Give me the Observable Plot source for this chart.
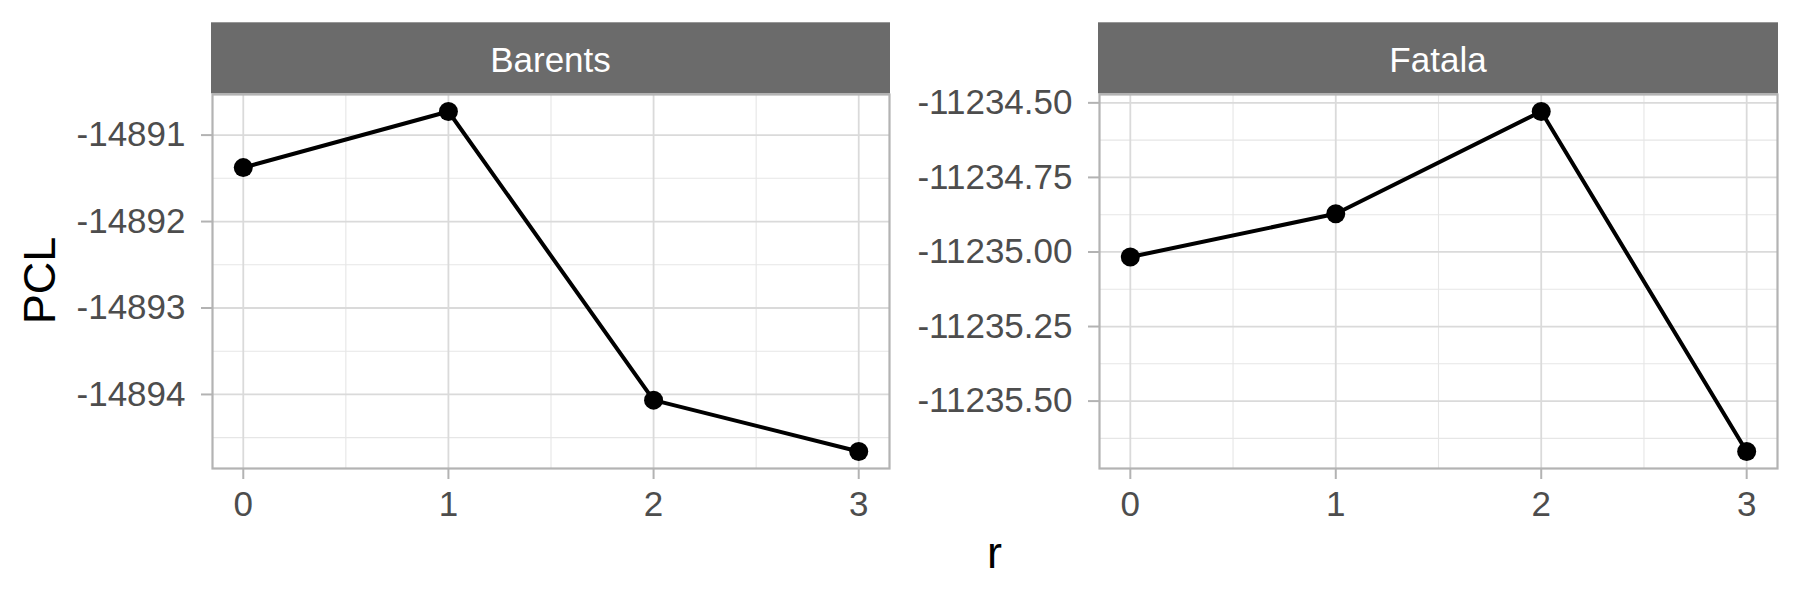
<!DOCTYPE html>
<html><head><meta charset="utf-8">
<script src="https://cdn.jsdelivr.net/npm/d3@7"></script>
<script src="https://cdn.jsdelivr.net/npm/@observablehq/plot@0.6"></script>
<style>
body{margin:0;background:#fff;}
#wrap{position:relative;width:1800px;height:600px;font-family:"Liberation Sans",Arial,sans-serif;}
#wrap svg{position:absolute;top:0;}
</style></head><body><div id="wrap"></div>
<script>
// ---- data ----
const rValues = [0, 1, 2, 3];
const barentsPCL = [-14891.376, -14890.727, -14894.066, -14894.66];
const fatalaPCL = [-11235.017, -11234.872, -11234.529, -11235.669];
const panelNames = ["Barents", "Fatala"];
const xTicks = [0, 1, 2, 3];
const xMinor = [0.5, 1.5, 2.5];
const barentsTicks = [-14894, -14893, -14892, -14891];
const barentsMinor = [-14894.5, -14893.5, -14892.5, -14891.5];
const fatalaTicks = [-11235.5, -11235.25, -11235, -11234.75, -11234.5];
const fatalaMinor = [-11235.625, -11235.375, -11235.125, -11234.875, -11234.625];
const xTitle = "r";
const yTitle = "PCL";

const FONT = '"Liberation Sans", Arial, sans-serif';
const wrap = document.getElementById("wrap");

function expand(vals) {
  const [a, b] = d3.extent(vals);
  const p = (b - a) * 0.05;
  return [a - p, b + p];
}

function panel(values, yTicks, yMinor, fmt, left, marginLeft, marginRight) {
  const data = rValues.map((v, i) => ({r: v, pcl: values[i]}));
  const chart = Plot.plot({
    width: 900, height: 600,
    marginTop: 94, marginBottom: 132, marginLeft, marginRight,
    style: {fontFamily: FONT, fontSize: "35px", color: "#4d4d4d", background: "transparent", overflow: "visible"},
    x: {domain: expand(rValues), ticks: xTicks, tickSize: 11, tickPadding: 12, tickFormat: d => String(d), label: null},
    y: {domain: expand(values), ticks: yTicks, tickSize: 11, tickPadding: 16, tickFormat: fmt, label: null},
    marks: [
      Plot.ruleX(xMinor, {stroke: "#e6e6e6", strokeWidth: 1.1}),
      Plot.ruleY(yMinor, {stroke: "#e6e6e6", strokeWidth: 1.1}),
      Plot.ruleX(xTicks, {stroke: "#dadada", strokeWidth: 1.8}),
      Plot.ruleY(yTicks, {stroke: "#dadada", strokeWidth: 1.8}),
      Plot.frame({stroke: "#b3b3b3", strokeWidth: 2.2}),
      Plot.line(data, {x: "r", y: "pcl", stroke: "black", strokeWidth: 4}),
      Plot.dot(data, {x: "r", y: "pcl", r: 9.5, fill: "black", stroke: null})
    ]
  });
  // tick marks in grey (works for both d3-axis and mark-based axes)
  const s = d3.select(chart);
  s.selectAll('[aria-label="x-axis"] line, [aria-label="y-axis"] line, [aria-label="x-axis tick"], [aria-label="y-axis tick"]')
    .attr("stroke", "#b3b3b3").attr("stroke-width", 2);
  s.selectAll('[aria-label="x-axis tick"] path, [aria-label="y-axis tick"] path')
    .attr("stroke", "#b3b3b3");
  chart.style.left = left + "px";
  wrap.appendChild(chart);
}

panel(barentsPCL, barentsTicks, barentsMinor, d => d.toFixed(0), 0, 212, 11);
panel(fatalaPCL, fatalaTicks, fatalaMinor, d => d.toFixed(2), 900, 199, 23);

// ---- strips and titles overlay ----
const ov = d3.select(wrap).append("svg")
  .attr("width", 1800).attr("height", 600)
  .style("left", "0px").style("pointer-events", "none")
  .style("font-family", FONT);
const strips = [[211, 890], [1098, 1778]];
strips.forEach(([x0, x1], i) => {
  ov.append("rect").attr("x", x0).attr("y", 22.3).attr("width", x1 - x0).attr("height", 71)
    .attr("fill", "#6b6b6b");
  ov.append("text").attr("x", (x0 + x1) / 2).attr("y", 71.5)
    .attr("text-anchor", "middle").attr("fill", "white").attr("font-size", 35)
    .text(panelNames[i]);
});
ov.append("text").attr("x", 994.5).attr("y", 568).attr("text-anchor", "middle")
  .attr("font-size", 45).attr("fill", "black").text(xTitle);
ov.append("text").attr("transform", "translate(55,280.5) rotate(-90)")
  .attr("text-anchor", "middle").attr("font-size", 45).attr("fill", "black").text(yTitle);
</script></body></html>
